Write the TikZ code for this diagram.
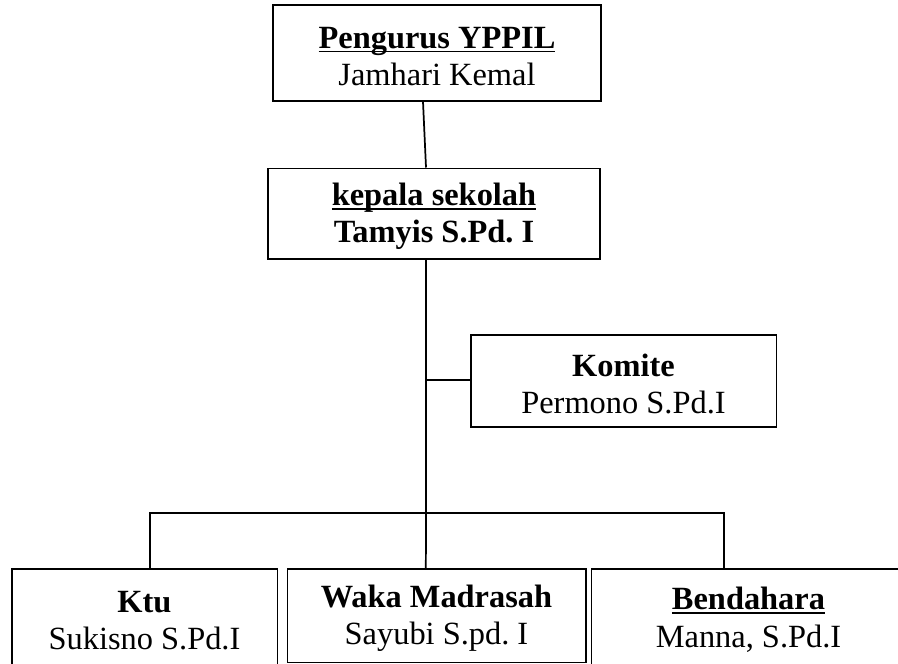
\documentclass[tikz,border=0pt]{standalone}
\usepackage{fontspec}
\setmainfont{Liberation Serif}
\usepackage{tikz}
\usetikzlibrary{positioning}
\frenchspacing
\newcommand{\undl}[1]{\setbox0\hbox{#1}\rlap{\rule[-3.2pt]{\wd0}{1.4pt}}\box0}
\newcommand{\atas}{\rule{0pt}{21pt}}
\tikzstyle{jabatan} = [rectangle, draw=black, line width=1pt, align=center, inner sep=0pt, font=\fontsize{24.3}{28}\selectfont]
\tikzstyle{garis} = [line width=1.3pt, color=black]

\begin{document}
\begin{tikzpicture}[x=0.75pt, y=-0.75pt]
\useasboundingbox (0,0) rectangle (898,663);
% Struktur organisasi
\node[jabatan, minimum width=246pt, minimum height=72pt] (pengurus) at (437,53) {\atas\undl{\textbf{Pengurus YPPIL}}\\Jamhari Kemal};
\node[jabatan, minimum width=249pt, minimum height=68pt] (kepala) at (434,213.5) {\atas\undl{\textbf{kepala sekolah}}\\\textbf{Tamyis S.Pd. I}};
\node[jabatan, minimum width=229pt, minimum height=69pt] (komite) at (623.5,381) {\atas\textbf{Komite}\\Permono S.Pd.I};
\node[jabatan, minimum width=199pt, minimum height=72pt] (ktu) at (144.5,617) {\atas\textbf{Ktu}\\Sukisno S.Pd.I};
\node[jabatan, minimum width=224pt, minimum height=70pt] (waka) at (436.5,615.5) {\atas\textbf{Waka Madrasah}\\Sayubi S.pd. I};
\node[jabatan, minimum width=236pt, minimum height=72pt] (bendahara) at (748.5,617) {\atas\undl{\textbf{Bendahara}}\\Manna, S.Pd.I};

\coordinate (cabang) at (426,380);
\coordinate (pusat) at (426,513);

\draw[garis] ([xshift=-10.5pt]pengurus.south) -- ([xshift=-6pt]kepala.north);
\draw[garis] ([xshift=-6pt]kepala.south) -- (pusat);
\draw[garis] (cabang) -- (komite.west |- cabang);
\draw[garis] ([xshift=4pt]ktu.north) |- (pusat) -| ([xshift=-18.4pt]bendahara.north);
\draw[garis] (pusat) -- ([xshift=-8pt]waka.north);
\end{tikzpicture}
\end{document}
